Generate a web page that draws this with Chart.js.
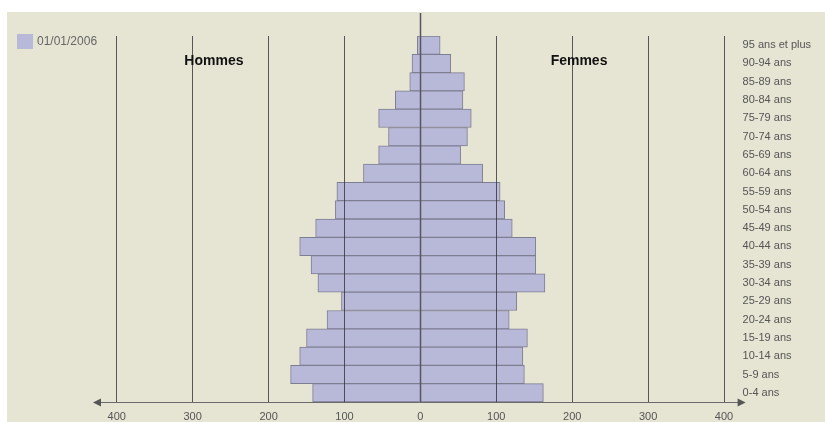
<!DOCTYPE html>
<html>
<head>
<meta charset="utf-8">
<script src="https://cdn.jsdelivr.net/npm/chart.js@4"></script>
<style>
  html, body { margin: 0; padding: 0; background: #ffffff; }
  #wrap { position: absolute; left: 0; top: 0; width: 825px; height: 422px; }
</style>
</head>
<body>
<div id="wrap"><canvas id="c" width="825" height="422"></canvas></div>
<script>
const AGE_GROUPS = ["95 ans et plus","90-94 ans","85-89 ans","80-84 ans","75-79 ans","70-74 ans","65-69 ans","60-64 ans","55-59 ans","50-54 ans","45-49 ans","40-44 ans","35-39 ans","30-34 ans","25-29 ans","20-24 ans","15-19 ans","10-14 ans","5-9 ans","0-4 ans"];
const HOMMES = [4,11,14,33,55,42,55,75,110,112,138,159,144,135,104,123,150,159,171,142];
const FEMMES = [26,40,58,56,67,62,53,82,105,111,121,152,152,164,127,117,141,135,137,162];
const X_TICKS = [-400,-300,-200,-100,0,100,200,300,400];
const LEGEND_LABEL = "01/01/2006";
const SIDE_TITLES = [{text: "Hommes", at: -272}, {text: "Femmes", at: 209}];

const BG = '#E6E4D3';
const BAR = '#B8B8D9';
const BAR_BORDER = '#7E7E92';
const FONT = "'Liberation Sans', Arial, sans-serif";

const decor = {
  id: 'decor',
  beforeDraw(chart) {
    const ctx = chart.ctx;
    ctx.save();
    ctx.fillStyle = BG;
    ctx.fillRect(7, 12, chart.width - 7, chart.height - 12);
    ctx.restore();
  },
  afterDraw(chart) {
    const ctx = chart.ctx;
    const xs = chart.scales.x;
    const area = chart.chartArea;
    ctx.save();
    // center line
    const x0 = Math.round(xs.getPixelForValue(0)) + 0.5;
    ctx.strokeStyle = '#55555f';
    ctx.lineWidth = 1.5;
    ctx.beginPath();
    ctx.moveTo(x0, 13);
    ctx.lineTo(x0, area.bottom);
    ctx.stroke();
    // horizontal axis with arrows
    const y = Math.round(area.bottom) + 0.5;
    const xl = area.left - 1, xr = area.right + 14;
    ctx.strokeStyle = '#6a6a6a';
    ctx.lineWidth = 1;
    ctx.beginPath();
    ctx.moveTo(xl + 3, y);
    ctx.lineTo(xr - 3, y);
    ctx.stroke();
    ctx.fillStyle = '#555555';
    ctx.beginPath();
    ctx.moveTo(xl, y); ctx.lineTo(xl + 8, y - 4); ctx.lineTo(xl + 8, y + 4); ctx.closePath(); ctx.fill();
    ctx.beginPath();
    ctx.moveTo(xr, y); ctx.lineTo(xr - 8, y - 4); ctx.lineTo(xr - 8, y + 4); ctx.closePath(); ctx.fill();
    // legend
    ctx.fillStyle = BAR;
    ctx.fillRect(17, 34, 16, 15);
    ctx.fillStyle = '#666666';
    ctx.font = "12px " + FONT;
    ctx.textBaseline = 'middle';
    ctx.textAlign = 'left';
    ctx.fillText(chart.data.datasets[0].label, 37, 42);
    // side titles
    ctx.fillStyle = '#111111';
    ctx.font = "bold 14px " + FONT;
    ctx.textAlign = 'center';
    SIDE_TITLES.forEach(t => ctx.fillText(t.text, xs.getPixelForValue(t.at), 61));
    ctx.restore();
  }
};

new Chart(document.getElementById('c'), {
  type: 'bar',
  data: {
    labels: AGE_GROUPS,
    datasets: [
      { label: LEGEND_LABEL, data: HOMMES.map(v => -v), backgroundColor: BAR, borderColor: BAR_BORDER, borderWidth: 1, barPercentage: 1, categoryPercentage: 1 },
      { label: LEGEND_LABEL, data: FEMMES, backgroundColor: BAR, borderColor: BAR_BORDER, borderWidth: 1, barPercentage: 1, categoryPercentage: 1 }
    ]
  },
  options: {
    indexAxis: 'y',
    responsive: false,
    animation: false,
    devicePixelRatio: 1,
    layout: { padding: { left: 94, top: 36, right: 0, bottom: 0 } },
    plugins: { legend: { display: false }, tooltip: { enabled: false }, title: { display: false } },
    scales: {
      x: {
        stacked: true,
        min: -430, max: 410,
        afterBuildTicks(scale) { scale.ticks = X_TICKS.map(v => ({ value: v })); },
        afterFit(scale) { scale.height = 20; },
        grid: { color: 'rgba(50,50,58,0.8)', lineWidth: 1, drawTicks: false, z: 1 },
        border: { display: false },
        ticks: {
          color: '#555555',
          font: { family: FONT, size: 11 },
          padding: 8,
          autoSkip: false,
          maxRotation: 0,
          callback: v => String(Math.abs(v))
        }
      },
      y: {
        stacked: true,
        position: 'right',
        afterFit(scale) { scale.width = 93.4; },
        grid: { display: false, drawTicks: false },
        border: { display: false },
        ticks: {
          color: '#555555',
          font: { family: FONT, size: 11 },
          padding: 11,
          crossAlign: 'near',
          autoSkip: false
        }
      }
    }
  },
  plugins: [decor]
});
</script>
</body>
</html>
